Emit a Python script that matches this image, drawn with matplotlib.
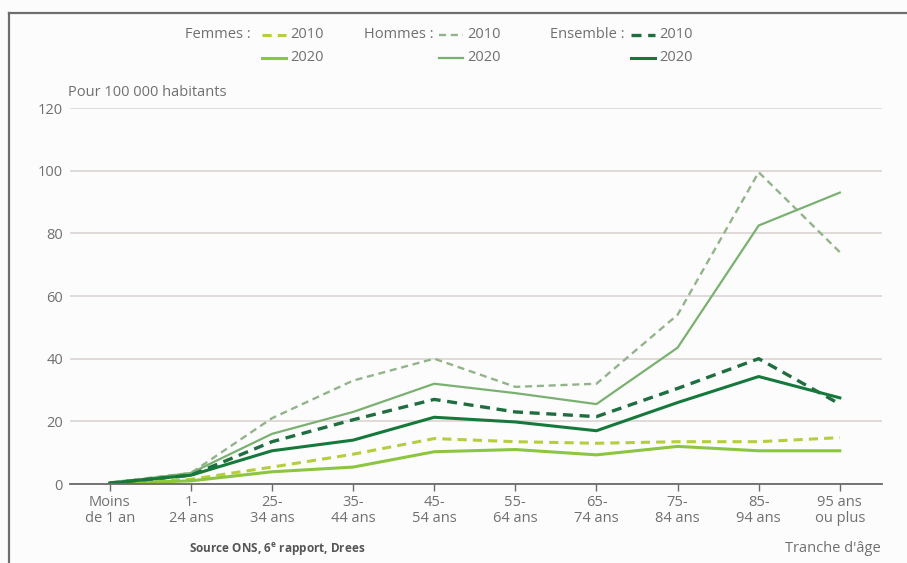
import matplotlib.pyplot as plt
from matplotlib.lines import Line2D

plt.rcParams['font.family'] = ['Open Sans', 'DejaVu Sans']

# Tranches d'age
categories = ['Moins\nde 1 an', '1-\n24 ans', '25-\n34 ans', '35-\n44 ans', '45-\n54 ans',
              '55-\n64 ans', '65-\n74 ans', '75-\n84 ans', '85-\n94 ans', '95 ans\nou plus']

# Taux pour 100 000 habitants
femmes_2010 = [0.2, 1.5, 5.4, 9.5, 14.5, 13.5, 13.0, 13.5, 13.5, 14.8]
femmes_2020 = [0.2, 1.0, 3.9, 5.4, 10.3, 11.0, 9.3, 12.0, 10.6, 10.6]
hommes_2010 = [0.5, 3.5, 21.0, 33.0, 40.0, 31.0, 32.0, 54.0, 99.5, 74.0]
hommes_2020 = [0.3, 3.5, 16.0, 23.0, 32.0, 29.0, 25.5, 43.5, 82.5, 93.0]
ensemble_2010 = [0.3, 2.8, 13.5, 20.5, 27.0, 23.0, 21.5, 30.5, 40.0, 25.5]
ensemble_2020 = [0.3, 2.8, 10.6, 14.0, 21.3, 19.8, 17.0, 26.0, 34.3, 27.5]

yticks = [0, 20, 40, 60, 80, 100, 120]

c_fem_10 = '#b4cf3c'
c_fem_20 = '#8cc641'
c_hom_10 = '#93b48a'
c_hom_20 = '#7ab171'
c_ens_10 = '#1f6e3f'
c_ens_20 = '#16793c'
txt_gray = '#707070'
fs = 10.5

fig = plt.figure(figsize=(9.07, 5.63), dpi=100, facecolor='#fcfcfc')
ax = fig.add_axes([70 / 907, 1 - 484 / 563, 812 / 907, 376 / 563])
ax.set_facecolor('#fcfcfc')

x = list(range(len(categories)))
dash = (3.0, 2.0)

ax.plot(x, femmes_2010, color=c_fem_10, lw=2.2, dashes=dash, zorder=3)
ax.plot(x, femmes_2020, color=c_fem_20, lw=2.2, zorder=3)
ax.plot(x, hommes_2010, color=c_hom_10, lw=1.7, dashes=dash, zorder=4)
ax.plot(x, hommes_2020, color=c_hom_20, lw=1.6, zorder=4)
ax.plot(x, ensemble_2010, color=c_ens_10, lw=2.4, dashes=dash, zorder=5)
ax.plot(x, ensemble_2020, color=c_ens_20, lw=2.2, zorder=5)

ax.set_xlim(-0.49, 9.52)
ax.set_ylim(0, 120)
ax.set_xticks(x)
ax.set_xticklabels(categories, fontsize=fs, color=txt_gray, linespacing=1.1)
ax.set_yticks(yticks)
ax.set_yticklabels([str(v) for v in yticks], fontsize=fs, color=txt_gray)
ax.tick_params(axis='y', length=0, pad=5)
ax.tick_params(axis='x', length=5, width=1, color='#6a6a6a', direction='out', pad=3)

for s in ['top', 'right', 'left']:
    ax.spines[s].set_visible(False)
ax.spines['bottom'].set_color('#6a6a6a')
ax.spines['bottom'].set_linewidth(1.3)
ax.spines['bottom'].set_zorder(6)
ax.yaxis.grid(True, color='#ddd8d5', lw=1.3)
ax.set_axisbelow(True)

# legende manuelle
def legend_item(x0, y0, color, lw, dashed, label):
    ln = Line2D([x0 / 907, (x0 + 24) / 907], [1 - y0 / 563, 1 - y0 / 563],
                transform=fig.transFigure, color=color, lw=lw,
                dashes=dash if dashed else (None, None))
    fig.add_artist(ln)
    fig.text((x0 + 28) / 907, 1 - y0 / 563, label, fontsize=fs, color=txt_gray, va='center')

row1, row2 = 35, 58
fig.text(251 / 907, 1 - row1 / 563, 'Femmes :', fontsize=fs, color=txt_gray, ha='right', va='center')
legend_item(262, row1, c_fem_10, 2.2, True, '2010')
legend_item(262, row2, c_fem_20, 2.2, False, '2020')
fig.text(434 / 907, 1 - row1 / 563, 'Hommes :', fontsize=fs, color=txt_gray, ha='right', va='center')
legend_item(439, row1, c_hom_10, 1.7, True, '2010')
legend_item(439, row2, c_hom_20, 1.6, False, '2020')
fig.text(625 / 907, 1 - row1 / 563, 'Ensemble :', fontsize=fs, color=txt_gray, ha='right', va='center')
legend_item(631, row1, c_ens_10, 2.4, True, '2010')
legend_item(631, row2, c_ens_20, 2.2, False, '2020')

fig.text(68 / 907, 1 - 93 / 563, 'Pour 100 000 habitants', fontsize=fs, color=txt_gray, va='center')
fig.text(277 / 907, 1 - 549 / 563, 'Source ONS, 6$^{\\mathregular{e}}$ rapport, Drees', fontsize=8.5,
         color='#555555', fontweight='bold', ha='center', va='center')
fig.text(881 / 907, 1 - 548 / 563, "Tranche d'âge", fontsize=fs, color=txt_gray, ha='right', va='center')

# cadre haut et gauche
fig.add_artist(Line2D([9 / 907, 1], [1 - 13 / 563, 1 - 13 / 563], transform=fig.transFigure,
                      color='#6e6e6e', lw=1.6))
fig.add_artist(Line2D([9 / 907, 9 / 907], [0, 1 - 13 / 563], transform=fig.transFigure,
                      color='#6e6e6e', lw=1.6))

fig.savefig('out.png', dpi=100, facecolor=fig.get_facecolor())
